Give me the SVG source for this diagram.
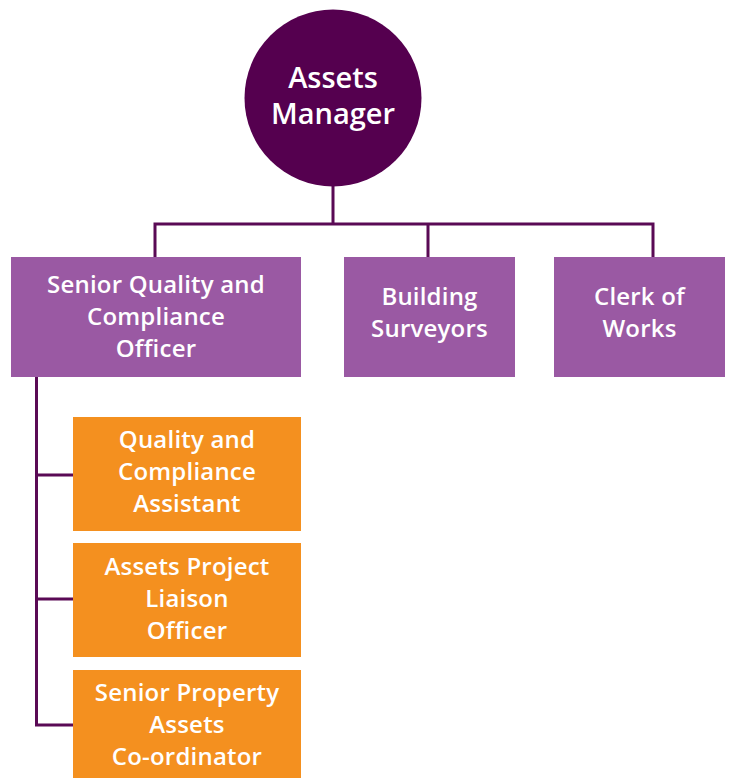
<svg xmlns="http://www.w3.org/2000/svg" width="729" height="778" viewBox="0 0 729 778">
  <style>
    .lbl { font-family: "Open Sans", "Liberation Sans", sans-serif; font-weight: 600; fill: #ffffff; text-anchor: middle; }
    .t22 { font-size: 24px; letter-spacing: 0.2px; }
    .t28 { font-size: 29px; }
    .head { fill: #55004f; }
    .mid { fill: #9a59a3; }
    .sub { fill: #f4901f; }
    .wire { fill: none; stroke: #5a0a55; stroke-width: 3; }
  </style>
  <rect width="729" height="778" fill="#ffffff"/>

  <g id="connectors">
    <path class="wire" d="M333 186 V224 M155 257 V224 H653 V257 M428 224 V257"/>
    <path class="wire" d="M36.5 376 V725 H73 M36.5 475 H73 M36.5 599 H73"/>
  </g>

  <g id="assets-manager">
    <circle class="head" cx="333" cy="98" r="88.5"/>
    <text class="lbl t28" x="333" y="88">Assets</text>
    <text class="lbl t28" x="333" y="124">Manager</text>
  </g>

  <g id="senior-quality-compliance-officer">
    <rect class="mid" x="11" y="257" width="290" height="120"/>
    <text class="lbl t22" x="156" y="293">Senior Quality and</text>
    <text class="lbl t22" x="156" y="325">Compliance</text>
    <text class="lbl t22" x="156" y="357">Officer</text>
  </g>

  <g id="building-surveyors">
    <rect class="mid" x="344" y="257" width="171" height="120"/>
    <text class="lbl t22" x="429.5" y="305">Building</text>
    <text class="lbl t22" x="429.5" y="337">Surveyors</text>
  </g>

  <g id="clerk-of-works">
    <rect class="mid" x="554" y="257" width="171" height="120"/>
    <text class="lbl t22" x="639.5" y="305">Clerk of</text>
    <text class="lbl t22" x="639.5" y="337">Works</text>
  </g>

  <g id="quality-compliance-assistant">
    <rect class="sub" x="73" y="417" width="228" height="114"/>
    <text class="lbl t22" x="187" y="448">Quality and</text>
    <text class="lbl t22" x="187" y="480">Compliance</text>
    <text class="lbl t22" x="187" y="512">Assistant</text>
  </g>

  <g id="assets-project-liaison-officer">
    <rect class="sub" x="73" y="543" width="228" height="114"/>
    <text class="lbl t22" x="187" y="575">Assets Project</text>
    <text class="lbl t22" x="187" y="607">Liaison</text>
    <text class="lbl t22" x="187" y="639">Officer</text>
  </g>

  <g id="senior-property-assets-coordinator">
    <rect class="sub" x="73" y="670" width="228" height="114"/>
    <text class="lbl t22" x="187" y="701">Senior Property</text>
    <text class="lbl t22" x="187" y="733">Assets</text>
    <text class="lbl t22" x="187" y="765">Co-ordinator</text>
  </g>
</svg>
